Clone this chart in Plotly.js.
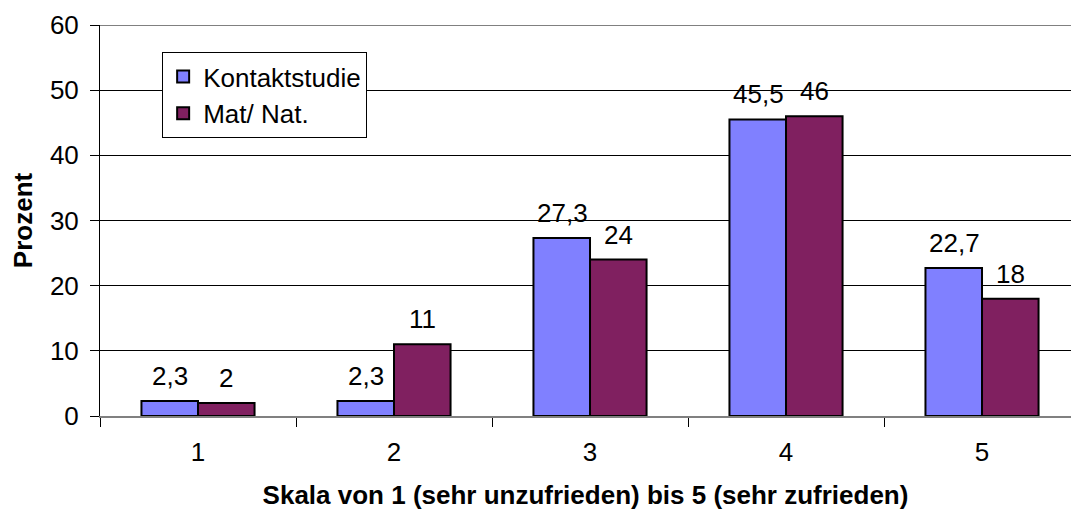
<!DOCTYPE html>
<html>
<head>
<meta charset="utf-8">
<script src="https://cdn.plot.ly/plotly-3.0.1.min.js"></script>
<style>html,body{margin:0;padding:0;background:#fff;overflow:hidden}#chart{width:1071px;height:516px}</style>
</head>
<body>
<div id="chart"></div>
<script>
const categories = ["1", "2", "3", "4", "5"];
const kontaktstudie = [2.3, 2.3, 27.3, 45.5, 22.7];
const matNat = [2, 11, 24, 46, 18];
const seriesNames = ["Kontaktstudie", "Mat/ Nat."];
const yTicks = [0, 10, 20, 30, 40, 50, 60];

const FONT = "Arial, 'Liberation Sans', sans-serif";
const FS = 26;
const fmt = v => String(v).replace('.', ',');

const traces = [
  {type: 'bar', name: seriesNames[0], x: categories, y: kontaktstudie,
   marker: {color: '#8080FF', line: {color: '#000', width: 2}}, legendgroup: 'a'},
  {type: 'bar', name: seriesNames[1], x: categories, y: matNat,
   marker: {color: '#802060', line: {color: '#000', width: 2}}, legendgroup: 'b'}
];

const annotations = [];
[kontaktstudie, matNat].forEach((arr, si) => {
  arr.forEach((v, i) => {
    annotations.push({
      x: i, y: v, xref: 'x', yref: 'y',
      text: fmt(v), showarrow: false, yanchor: 'bottom',
      xshift: si === 0 ? -28 : 28, yshift: 8,
      font: {family: FONT, size: FS, color: '#000'}
    });
  });
});

const layout = {
  width: 1071, height: 516,
  margin: {l: 100, r: 0, t: 25, b: 100},
  paper_bgcolor: '#fff', plot_bgcolor: '#fff',
  font: {family: FONT, size: FS, color: '#000'},
  barmode: 'group', bargap: 0.423, bargroupgap: 0,
  showlegend: true,
  legend: {x: 0.064, y: 0.931, xanchor: 'left', yanchor: 'top',
           bgcolor: '#fff', bordercolor: '#000', borderwidth: 1,
           font: {family: FONT, size: FS, color: '#000'}, tracegroupgap: 0,
           itemwidth: 30},
  xaxis: {type: 'category', range: [-0.5, 4.454], showline: true, linecolor: '#808080', linewidth: 2,
          ticks: 'outside', tickson: 'boundaries', ticklen: 9, tickcolor: '#000',
          showgrid: false, zeroline: false, ticklabelstandoff: 12,
          tickfont: {family: FONT, size: FS},
          title: {text: '<b>Skala von 1 (sehr unzufrieden) bis 5 (sehr zufrieden)</b>', font: {family: FONT, size: FS}, standoff: 20}},
  yaxis: {range: [0, 60], tickvals: yTicks, ticktext: yTicks.map(String),
          showline: true, linecolor: '#000', linewidth: 1, ticks: 'outside', ticklen: 9, tickcolor: '#000',
          showgrid: true, gridcolor: '#000', gridwidth: 1, zeroline: false, ticklabelstandoff: 6,
          tickfont: {family: FONT, size: FS},
          title: {text: '<b>Prozent</b>', font: {family: FONT, size: FS}, standoff: 9}},
  shapes: [
    {type: 'line', xref: 'paper', yref: 'y', x0: 0, x1: 1, y0: 60, y1: 60, line: {color: '#808080', width: 2}}
  ],
  annotations: annotations
};

Plotly.newPlot('chart', traces, layout, {displayModeBar: false, staticPlot: true});
</script>
</body>
</html>
